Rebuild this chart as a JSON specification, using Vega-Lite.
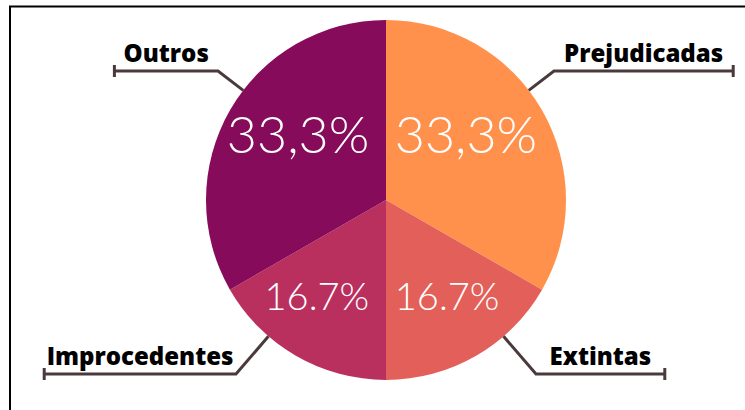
{
  "$schema": "https://vega.github.io/schema/vega-lite/v6.json",
  "width": 735,
  "height": 403.5,
  "autosize": {"type": "none"},
  "padding": {"left": 10, "top": 6.5, "right": 0, "bottom": 0},
  "background": "#ffffff",
  "config": {
    "view": {"stroke": "#000000", "strokeWidth": 2, "strokeDash": [735, 1138.5, 403.5], "strokeCap": "square"}
  },
  "data": {
    "values": [
      {"ord": 1, "categoria": "Prejudicadas", "valor": 33.3, "rotulo": "33,3%"},
      {"ord": 2, "categoria": "Extintas", "valor": 16.7, "rotulo": "16.7%"},
      {"ord": 3, "categoria": "Improcedentes", "valor": 16.7, "rotulo": "16.7%"},
      {"ord": 4, "categoria": "Outros", "valor": 33.3, "rotulo": "33,3%"}
    ]
  },
  "transform": [
    {"stack": "valor", "groupby": [], "sort": [{"field": "ord", "order": "ascending"}], "as": ["v0", "v1"]},
    {"calculate": "(datum.v0 + datum.v1) / 2", "as": "meio"},
    {"calculate": "datum.meio / 100 * 2 * PI", "as": "ang"},
    {"calculate": "sin(datum.ang) > 0 ? 1 : -1", "as": "lado"},
    {"calculate": "cos(datum.ang) > 0 ? -129 : 174", "as": "ey"},
    {"calculate": "datum.lado * (cos(datum.ang) > 0 ? 168 : 150)", "as": "ex"},
    {"calculate": "180 / sqrt(datum.ex * datum.ex + datum.ey * datum.ey)", "as": "k"},
    {"calculate": "datum.ex + datum.lado * (28 + 12.6 * length(datum.categoria))", "as": "qx"},
    {"calculate": "(datum.ex + datum.qx) / 2", "as": "tx"},
    {"calculate": "datum.ey - 9.5", "as": "ty"},
    {"calculate": "datum.ey - 6", "as": "t0"},
    {"calculate": "datum.ey + 6", "as": "t1"}
  ],
  "layer": [
    {
      "mark": {"type": "arc", "outerRadius": 180},
      "encoding": {
        "x": {"datum": 0, "type": "quantitative", "scale": {"domain": [-376, 359], "nice": false, "zero": false}, "axis": null},
        "y": {"datum": 0, "type": "quantitative", "scale": {"domain": [-193.5, 210], "reverse": true, "nice": false, "zero": false}, "axis": null},
        "theta": {"field": "v0", "type": "quantitative", "scale": {"domain": [0, 100]}},
        "theta2": {"field": "v1"},
        "color": {
          "field": "categoria",
          "type": "nominal",
          "scale": {
            "domain": ["Prejudicadas", "Extintas", "Improcedentes", "Outros"],
            "range": ["#FF914D", "#E35F59", "#B9305E", "#860B5A"]
          },
          "legend": null
        }
      }
    },
    {
      "mark": {"type": "text", "font": "Lato", "fontWeight": 300, "color": "#ffffff", "align": "center", "baseline": "middle", "dx": -4, "dy": -14},
      "encoding": {
        "x": {"datum": 0, "type": "quantitative", "scale": {"domain": [-376, 359], "nice": false, "zero": false}, "axis": null},
        "y": {"datum": 0, "type": "quantitative", "scale": {"domain": [-193.5, 210], "reverse": true, "nice": false, "zero": false}, "axis": null},
        "theta": {"field": "meio", "type": "quantitative", "stack": null, "scale": {"domain": [0, 100]}},
        "radius": {"field": "valor", "type": "quantitative", "scale": {"type": "linear", "domain": [16.7, 33.3], "range": [130, 97], "zero": false}},
        "size": {"field": "valor", "type": "quantitative", "scale": {"type": "linear", "domain": [16.7, 33.3], "range": [38, 52], "zero": false}, "legend": null},
        "text": {"field": "rotulo", "type": "nominal"}
      }
    },
    {
      "transform": [
        {"calculate": "[datum.ex * datum.k, datum.ex, datum.qx]", "as": "xs"},
        {"calculate": "[datum.ey * datum.k, datum.ey, datum.ey]", "as": "ys"},
        {"calculate": "[0, 1, 2]", "as": "passo"},
        {"flatten": ["xs", "ys", "passo"]}
      ],
      "mark": {"type": "line", "color": "#4a3a3c", "strokeWidth": 3, "strokeJoin": "miter"},
      "encoding": {
        "x": {"field": "xs", "type": "quantitative", "scale": {"domain": [-376, 359], "nice": false, "zero": false}, "axis": null},
        "y": {"field": "ys", "type": "quantitative", "scale": {"domain": [-193.5, 210], "reverse": true, "nice": false, "zero": false}, "axis": null},
        "detail": {"field": "categoria", "type": "nominal"},
        "order": {"field": "passo", "type": "quantitative"}
      }
    },
    {
      "mark": {"type": "rule", "color": "#4a3a3c", "strokeWidth": 3},
      "encoding": {
        "x": {"field": "qx", "type": "quantitative", "scale": {"domain": [-376, 359], "nice": false, "zero": false}, "axis": null},
        "y": {"field": "t0", "type": "quantitative", "scale": {"domain": [-193.5, 210], "reverse": true, "nice": false, "zero": false}, "axis": null},
        "y2": {"field": "t1"}
      }
    },
    {
      "mark": {"type": "text", "font": "Open Sans", "fontWeight": 800, "fontSize": 24, "color": "#000000", "align": "center", "baseline": "alphabetic"},
      "encoding": {
        "x": {"field": "tx", "type": "quantitative", "scale": {"domain": [-376, 359], "nice": false, "zero": false}, "axis": null},
        "y": {"field": "ty", "type": "quantitative", "scale": {"domain": [-193.5, 210], "reverse": true, "nice": false, "zero": false}, "axis": null},
        "text": {"field": "categoria", "type": "nominal"}
      }
    }
  ]
}
